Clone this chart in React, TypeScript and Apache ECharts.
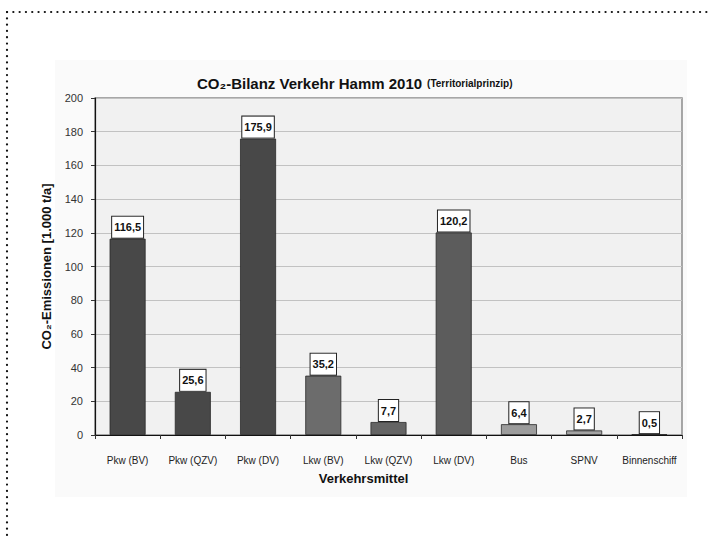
import React, { useEffect, useRef } from "react";
import * as echarts from "echarts";

// Verkehrsmittel (categories) and CO2 emissions in 1.000 t/a
const categories = [
  "Pkw (BV)",
  "Pkw (QZV)",
  "Pkw (DV)",
  "Lkw (BV)",
  "Lkw (QZV)",
  "Lkw (DV)",
  "Bus",
  "SPNV",
  "Binnenschiff",
];
const emissions = [116.5, 25.6, 175.9, 35.2, 7.7, 120.2, 6.4, 2.7, 0.5];
const barColors = [
  "#484848",
  "#484848",
  "#484848",
  "#6c6c6c",
  "#646464",
  "#5c5c5c",
  "#9c9c9c",
  "#a3a3a3",
  "#f4f4f4",
];
const yTicks = { min: 0, max: 200, interval: 20 };

const FONT = "'Liberation Sans', Arial, Helvetica, sans-serif";

export default function App() {
  const ref = useRef<HTMLDivElement>(null);

  useEffect(() => {
    if (!ref.current) return;
    const chart = echarts.init(ref.current, undefined, { renderer: "svg" });

    chart.setOption({
      animation: false,
      backgroundColor: "#ffffff",
      textStyle: { fontFamily: FONT },
      title: {
        text: "{a|CO₂-Bilanz Verkehr Hamm 2010} {b|(Territorialprinzip)}",
        left: 192,
        top: 69,
        textStyle: {
          rich: {
            a: { fontFamily: FONT, fontWeight: "bold", fontSize: 15, color: "#111" },
            b: { fontFamily: FONT, fontWeight: "bold", fontSize: 10, color: "#111" },
          },
        },
      },
      graphic: [
        // soft grey chart area
        {
          type: "rect",
          z: -10,
          shape: { x: 55, y: 60, width: 632, height: 437 },
          style: { fill: "#fafafa" },
          silent: true,
        },
        // dotted frame, top and left
        {
          type: "line",
          shape: { x1: 7, y1: 12, x2: 709, y2: 12 },
          style: { stroke: "#111", lineWidth: 2.2, lineDash: [0.1, 6.2], lineCap: "round" },
          silent: true,
        },
        {
          type: "line",
          shape: { x1: 7, y1: 12, x2: 7, y2: 540 },
          style: { stroke: "#111", lineWidth: 2.2, lineDash: [0.1, 6.2], lineCap: "round" },
          silent: true,
        },
      ],
      grid: {
        left: 95,
        right: 27,
        top: 98,
        bottom: 103,
        show: true,
        backgroundColor: "#f1f1f1",
        borderColor: "#8c8c8c",
        borderWidth: 1.5,
      },
      xAxis: {
        type: "category",
        data: categories,
        name: "Verkehrsmittel",
        nameLocation: "middle",
        nameGap: 37,
        nameTextStyle: {
          fontFamily: FONT,
          fontWeight: "bold",
          fontSize: 13,
          color: "#111",
          padding: [0, 50, 0, 0],
        },
        axisLine: { lineStyle: { color: "#111", width: 1.2 } },
        axisTick: { show: true, length: 4, lineStyle: { color: "#333" } },
        axisLabel: { fontFamily: FONT, fontSize: 10, color: "#222", margin: 20, interval: 0 },
      },
      yAxis: {
        type: "value",
        min: yTicks.min,
        max: yTicks.max,
        interval: yTicks.interval,
        name: "CO₂-Emissionen [1.000 t/a]",
        nameLocation: "middle",
        nameGap: 42,
        nameTextStyle: { fontFamily: FONT, fontWeight: "bold", fontSize: 13, color: "#111" },
        axisLine: { show: true, lineStyle: { color: "#111", width: 1.2 } },
        axisTick: { show: true, length: 4, lineStyle: { color: "#333" } },
        axisLabel: { fontFamily: FONT, fontSize: 11, color: "#333", margin: 12 },
        splitLine: { lineStyle: { color: "#c2c2c2", width: 1 } },
      },
      series: [
        {
          type: "bar",
          barWidth: 36,
          data: emissions.map((v, i) => ({
            value: v,
            itemStyle: { color: barColors[i], borderColor: "#2a2a2a", borderWidth: 0.8 },
          })),
          label: {
            show: true,
            position: "top",
            distance: 1,
            formatter: (p: any) => String(p.value).replace(".", ","),
            fontFamily: FONT,
            fontWeight: "bold",
            fontSize: 11,
            color: "#111",
            backgroundColor: "#ffffff",
            borderColor: "#222",
            borderWidth: 1,
            padding: [5, 2, 5, 2],
          },
        },
      ],
    });

    return () => chart.dispose();
  }, []);

  return <div ref={ref} style={{ width: 709, height: 538, position: "absolute", left: 0, top: 0 }} />;
}
